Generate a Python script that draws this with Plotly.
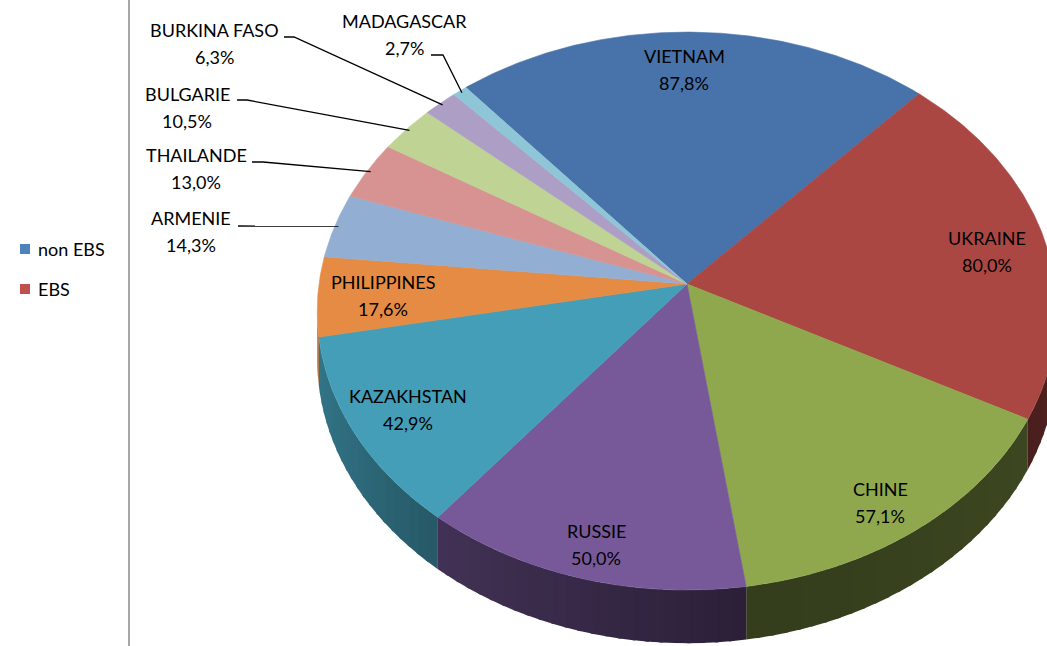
import numpy as np
import plotly.graph_objects as go

# ---------------- data ----------------
countries = ["VIETNAM", "UKRAINE", "CHINE", "RUSSIE", "KAZAKHSTAN", "PHILIPPINES",
             "ARMENIE", "THAILANDE", "BULGARIE", "BURKINA FASO", "MADAGASCAR"]
values = [87.8, 80.0, 57.1, 50.0, 42.9, 17.6, 14.3, 13.0, 10.5, 6.3, 2.7]
legend_labels = ["non EBS", "EBS"]

# ---------------- styles ----------------
top_colors = ["#4872aa", "#ab4743", "#8fa84d", "#77599a", "#449eb7", "#e68b43",
              "#93aed3", "#d69391", "#bfd394", "#ad9ec6", "#8ec6d8"]
legend_colors = ["#4f81bd", "#c0504d"]
FONT = "Lato"
FS = 18

# wall shading factor vs. angle (deg)
SHADE_ANG = [90, 120, 172, 215, 240, 270]
SHADE_F = [0.50, 0.42, 0.36, 0.54, 0.68, 0.78]

# ---------------- geometry (pixel space of the reference) ----------------
W, H = 1047, 646
CX, CY = 687, 284          # projected pie centre
R = 368                    # horizontal radius
K = 0.097                  # perspective strength
S = 0.751                  # vertical squash (tilt)
DEPTH = 48                 # wall thickness
START = -40.2              # angle of first slice (deg, clockwise from top)
SIL = np.degrees(np.arccos(-K))   # silhouette angle of the wall


def proj(theta_deg, r=1.0, drop=0.0):
    th = np.radians(theta_deg)
    X = r * np.sin(th)
    Z = r * np.cos(th)
    d = 1 + K * Z
    return CX + R * X / d, CY - R * S * Z / d + drop / d


def shade(hexcol, f):
    h = hexcol.lstrip("#")
    rgb = [int(h[j:j + 2], 16) for j in (0, 2, 4)]
    return "rgb({},{},{})".format(*[max(0, min(255, int(round(c * f)))) for c in rgb])


total = sum(values)
spans = [v / total * 360 for v in values]
bounds = [START]
for s in spans:
    bounds.append(bounds[-1] + s)

fig = go.Figure()

# side walls (front-facing part only), drawn in shaded, slightly overlapping strips
for i in range(len(values)):
    a, b = bounds[i], bounds[i + 1]
    for off in (0, 360, -360):
        lo = max(a, SIL + off)
        hi = min(b, 360 - SIL + off)
        if hi <= lo:
            continue
        n = max(1, int(np.ceil((hi - lo) / 2.0)))
        edges = np.linspace(lo, hi, n + 1)
        for j in range(n):
            t0, t1 = edges[j], edges[j + 1]
            t1e = min(hi, t1 + 0.5)
            th = np.linspace(t0, t1e, 8)
            xt, yt = proj(th)
            xb, yb = proj(th[::-1], drop=DEPTH)
            f = float(np.interp((t0 + t1) / 2 - off, SHADE_ANG, SHADE_F))
            col = shade(top_colors[i], f)
            fig.add_trace(go.Scatter(
                x=np.concatenate([xt, xb]), y=np.concatenate([yt, yb]),
                fill="toself", fillcolor=col, mode="lines",
                line=dict(width=0),
                hoverinfo="skip", showlegend=False))

# top faces
for i in range(len(values)):
    a, b = bounds[i], bounds[i + 1]
    th = np.linspace(a, b, max(int((b - a) * 2), 8))
    xs, ys = proj(th)
    fig.add_trace(go.Scatter(
        x=np.concatenate([[CX], xs, [CX]]), y=np.concatenate([[CY], ys, [CY]]),
        fill="toself", fillcolor=top_colors[i], mode="lines",
        line=dict(color=top_colors[i], width=0.6),
        hoverinfo="skip", showlegend=False))


def fmt(v):
    return f"{v:.1f}".replace(".", ",") + "%"


# label positions (layout): centre of the two text lines
inside_pos = {
    "VIETNAM": (684, 69), "UKRAINE": (987, 251), "CHINE": (880, 502),
    "RUSSIE": (596, 544), "KAZAKHSTAN": (408, 409), "PHILIPPINES": (383, 295),
}
outside_pos = {
    "MADAGASCAR": (404, 34), "BURKINA FASO": (214, 43), "BULGARIE": (187, 107),
    "THAILANDE": (196, 168), "ARMENIE": (191, 231),
}
leader_pts = {
    "MADAGASCAR": ((431, 55), (443, 55)),
    "BURKINA FASO": ((284, 37), (294, 37)),
    "BULGARIE": ((237, 100), (247, 100)),
    "THAILANDE": ((252, 162), (263, 162)),
    "ARMENIE": ((238, 226), (250, 226)),
}

annotations = []
LS = 27
for i, (c, v) in enumerate(zip(countries, values)):
    x0, y0 = inside_pos.get(c) or outside_pos.get(c)
    annotations.append(dict(x=x0, y=y0 - LS / 2, text=c, showarrow=False,
                            xanchor="center", yanchor="middle",
                            font=dict(family=FONT, size=FS, color="#000000")))
    annotations.append(dict(x=x0, y=y0 + LS / 2, text=fmt(v), showarrow=False,
                            xanchor="center", yanchor="middle",
                            font=dict(family=FONT, size=FS, color="#000000")))
    if c in leader_pts:
        mid = (bounds[i] + bounds[i + 1]) / 2
        ex, ey = proj(mid, r=0.99)
        (sx, sy), (bx, by) = leader_pts[c]
        fig.add_trace(go.Scatter(x=[sx, bx, float(ex)], y=[sy, by, float(ey)],
                                 mode="lines", line=dict(color="#000000", width=1.3),
                                 hoverinfo="skip", showlegend=False))

# legend (manual)
leg_x = 25
leg_y = [249, 289]
fig.add_trace(go.Scatter(x=[leg_x] * 2, y=leg_y, mode="markers",
                         marker=dict(symbol="square", size=10, color=legend_colors),
                         hoverinfo="skip", showlegend=False))
for lbl, y in zip(legend_labels, leg_y):
    annotations.append(dict(x=36, y=y, text=lbl, showarrow=False, xanchor="left",
                            yanchor="middle",
                            font=dict(family=FONT, size=FS, color="#000000")))

# separator line
fig.add_shape(type="line", x0=129, x1=129, y0=0, y1=H,
              line=dict(color="#8a8a8a", width=1.5), layer="above")

fig.update_layout(
    width=W, height=H, margin=dict(l=0, r=0, t=0, b=0),
    paper_bgcolor="white", plot_bgcolor="white",
    xaxis=dict(range=[0, W], visible=False, fixedrange=True),
    yaxis=dict(range=[H, 0], visible=False, fixedrange=True),
    annotations=annotations, showlegend=False,
)

fig.write_html("out.html", config={"displayModeBar": False},
               post_script="document.body.style.margin='0px';")
